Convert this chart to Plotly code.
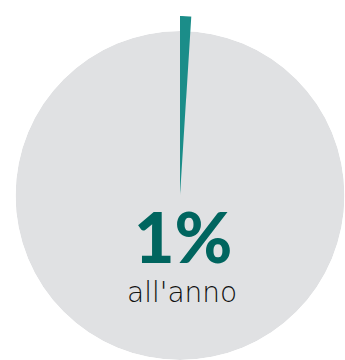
import plotly.graph_objects as go

# Data
share_pct = [1]          # highlighted share (percent)
rest_pct = [99]          # remaining share
big_label = ["1%"]
sub_label = ["all'anno"]

W, H = 345, 360
GREY = "#e0e1e3"
TEAL = "#1b8d89"
DARK_TEAL = "#00655f"

total = share_pct[0] + rest_pct[0]
share_deg = share_pct[0] / total * 360

fig = go.Figure()

# Grey full disc
fig.add_trace(go.Barpolar(
    r=[1], theta=[180], width=[360],
    marker=dict(color=GREY, line=dict(width=0)),
    subplot="polar", hoverinfo="skip", showlegend=False))

# Teal slice (1%) extending slightly beyond the disc
fig.add_trace(go.Barpolar(
    r=[1], theta=[share_deg / 2], width=[share_deg],
    marker=dict(color=TEAL, line=dict(width=0)),
    subplot="polar2", hoverinfo="skip", showlegend=False))

hidden_axes = dict(
    bgcolor="rgba(0,0,0,0)",
    hole=0,
)

fig.update_layout(
    width=W, height=H,
    margin=dict(l=0, r=0, t=0, b=0),
    paper_bgcolor="white",
    plot_bgcolor="white",
    polar=dict(
        domain=dict(x=[15 / W, 1.0], y=[0.0, 1 - 31 / H]),
        radialaxis=dict(visible=False, range=[0, 1]),
        angularaxis=dict(visible=False, rotation=90, direction="clockwise"),
        **hidden_axes,
    ),
    polar2=dict(
        domain=dict(x=[(180 - 40) / W, (180 + 40) / W], y=[1 - 196 / H, 1 - 16 / H]),
        sector=[80, 100],
        radialaxis=dict(visible=False, range=[0, 1]),
        angularaxis=dict(visible=False, rotation=90, direction="clockwise"),
        **hidden_axes,
    ),
    annotations=[
        dict(text=big_label[0], x=183 / W, y=1 - 236 / H, xref="paper", yref="paper",
             xanchor="center", yanchor="middle", showarrow=False,
             font=dict(family="Lato Black, Lato, sans-serif", size=70, color=DARK_TEAL, weight=900)),
        dict(text=sub_label[0], x=182 / W, y=1 - 292 / H, xref="paper", yref="paper",
             xanchor="center", yanchor="middle", showarrow=False,
             font=dict(family="DejaVu Sans, sans-serif", size=28, color="#111111", weight=200)),
    ],
)

fig.write_html("out.html")
